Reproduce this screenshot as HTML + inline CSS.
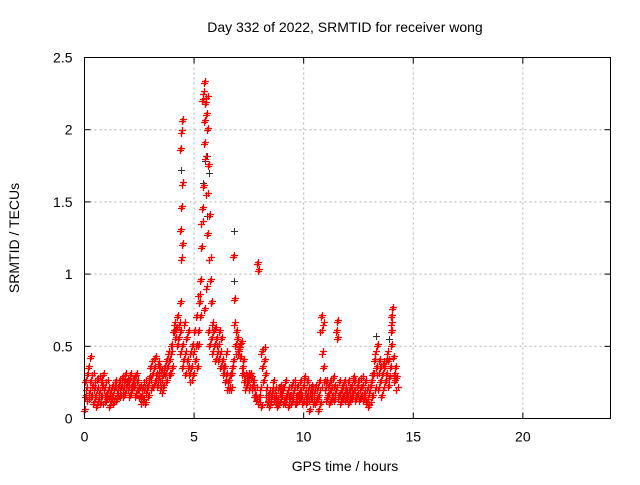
<!DOCTYPE html>
<html><head><meta charset="utf-8"><style>
body{margin:0;background:#fff;}
svg text{font-family:"Liberation Sans",sans-serif;font-size:14px;fill:#000;}
</style></head><body>
<svg id="chart" width="640" height="480" xmlns="http://www.w3.org/2000/svg">
<rect width="640" height="480" fill="#fff"/>
<g id="grid"></g><g id="ticks"></g><g id="black"></g><g id="red"></g>
<rect x="84.5" y="57.5" width="526" height="361" fill="none" stroke="#000"/>
<text x="345" y="32" text-anchor="middle">Day 332 of 2022, SRMTID for receiver wong</text>
<text x="345" y="471" text-anchor="middle">GPS time / hours</text>
<text x="0" y="0" text-anchor="middle" transform="translate(19,238) rotate(-90)">SRMTID / TECUs</text>
</svg>
<script>
const xTicks=[0,5,10,15,20];
const yTicks=[0,0.5,1,1.5,2,2.5];
const yTickLabels=["0","0.5","1","1.5","2","2.5"];
const redTimes=[0.0,0.1,0.2,0.3,0.4,0.5,0.6,0.7,0.8,0.9,1.0,1.1,1.2,1.3,1.4,1.5,1.6,1.7,1.8,1.9,2.0,2.1,2.2,2.3,2.4,2.5,2.6,2.7,2.8,2.9,3.0,3.1,3.2,3.3,3.4,3.5,3.6,3.7,3.8,3.9,4.0,4.1,4.2,4.3,4.4,4.5,4.6,4.7,4.8,4.9,5.0,5.1,5.2,5.3,5.4,5.5,5.6,5.7,5.8,5.9,6.0,6.1,6.2,6.3,6.4,6.5,6.6,6.7,6.8,6.9,7.0,7.1,7.2,7.3,7.4,7.5,7.6,7.7,7.8,7.9,8.0,8.1,8.2,8.3,8.4,8.5,8.6,8.7,8.8,8.9,9.0,9.1,9.2,9.3,9.4,9.5,9.6,9.7,9.8,9.9,10.0,10.1,10.2,10.3,10.4,10.5,10.6,10.7,10.8,10.9,11.0,11.1,11.2,11.3,11.4,11.5,11.6,11.7,11.8,11.9,12.0,12.1,12.2,12.3,12.4,12.5,12.6,12.7,12.8,12.9,13.0,13.1,13.2,13.3,13.4,13.5,13.6,13.7,13.8,13.9,14.0,14.1,14.2];
const redValues=[[.05,.15,.25],[.2,.3,.12],[.35,.18,.25],[.42,.15,.22],[.3,.1,.2],[.15,.25,.08],[.2,.12,.28],[.18,.1,.25],[.15,.22,.3],[.1,.2,.15],[.12,.25,.18],[.2,.08,.14],[.18,.12,.22],[.15,.1,.2],[.2,.25,.12],[.18,.14,.22],[.25,.15,.2],[.22,.28,.15],[.2,.25,.3],[.18,.22,.26],[.25,.2,.15],[.3,.22,.18],[.2,.25,.28],[.22,.15,.3],[.18,.25,.2],[.2,.14,.22],[.15,.1,.2],[.12,.2,.25],[.1,.18,.22],[.2,.15,.28],[.25,.35,.2],[.3,.4,.22],[.35,.25,.42],[.3,.22,.38],[.28,.35,.2],[.25,.32,.18],[.22,.3,.35],[.3,.4,.25],[.35,.45,.3],[.4,.3,.5],[.45,.35,.6],[.6,.65,.55],[.62,.5,.7],[.55,.65,.45],[.8,1.1,1.2,1.3,1.46,1.62,1.86,1.98,2.06,.6],[.5,.4,.65,.35],[.45,.3,.55],[.4,.6,.35],[.3,.45,.25],[.35,.5,.3],[.45,.6,.4],[.5,.7,.35],[.6,.85,.8,.5],[.95,1.18,1.35,.7],[1.45,1.6,2.05,2.2,2.25,.75],[2.32,2.18,2.1,1.9,1.8,.9],[2.22,2.0,1.75,1.55,1.27,.6],[1.4,1.1,.95,.5],[.8,.65,.45,.55],[.6,.5,.4],[.62,.55,.45],[.5,.4,.6],[.45,.35,.55],[.4,.3,.35],[.35,.25,.45],[.3,.2,.25],[.25,.2,.3],[.2,.3,.35],[1.12,.82,.65,.4],[.5,.6,.45],[.55,.45,.5],[.48,.42,.52],[.35,.3,.4],[.25,.3,.2],[.22,.28,.3],[.25,.2,.3],[.3,.28,.22],[.2,.25,.15],[.15,.2,.12],[1.07,1.02,.1],[.15,.2,.08],[.45,.35,.25],[.48,.4,.3],[.2,.15,.1],[.12,.18,.08],[.1,.15,.2],[.18,.25,.12],[.15,.2,.1],[.12,.08,.2],[.1,.18,.22],[.15,.2,.1],[.2,.12,.25],[.1,.15,.18],[.08,.2,.15],[.15,.22,.1],[.12,.18,.25],[.2,.1,.15],[.1,.22,.16],[.18,.12,.25],[.15,.2,.1],[.22,.28,.12],[.18,.1,.25],[.15,.2,.05],[.12,.18,.22],[.2,.15,.1],[.18,.1,.22],[.12,.2,.05],[.15,.25,.1],[.6,.7,.45,.2],[.65,.35,.25],[.2,.12,.25],[.15,.22,.1],[.18,.25,.12],[.2,.15,.28],[.22,.12,.18],[.6,.67,.55,.2],[.15,.25,.1],[.18,.12,.22],[.2,.15,.25],[.12,.2,.18],[.15,.25,.1],[.2,.12,.18],[.22,.15,.28],[.18,.25,.12],[.2,.15,.22],[.25,.18,.12],[.2,.15,.28],[.22,.12,.18],[.15,.25,.1],[.12,.2,.08],[.18,.1,.22],[.25,.15,.3],[.3,.4,.2],[.45,.35,.5],[.3,.2,.4],[.25,.35,.15],[.3,.2,.38],[.35,.25,.4],[.3,.45,.22],[.4,.28,.35],[.6,.7,.76,.65,.5],[.42,.3,.25],[.35,.28,.2]];
const blackTimes=[0,4.4,5.4,5.5,5.6,5.7,5.6,6.8,6.8,13.3,13.9];
const blackValues=[.25,1.72,1.63,1.78,1.82,1.7,1.4,1.3,.95,.57,.55];

const L=84.5,R=610.5,T=57.5,B=418.5;
const xs=t=>L+(t/24)*(R-L);
const ys=v=>B-(v/2.5)*(B-T);
const NS="http://www.w3.org/2000/svg";
function mk(tag,parent,attrs){const e=document.createElementNS(NS,tag);for(const k in attrs)e.setAttribute(k,attrs[k]);parent.appendChild(e);return e;}
const grid=document.getElementById('grid'),ticks=document.getElementById('ticks');
xTicks.forEach(t=>{
  const x=xs(t);
  if(t>0){const g=mk('line',grid,{x1:x,x2:x,y1:T,y2:B,stroke:'#b0b0b0','stroke-dasharray':'2,3'});
  
  }
  mk('line',ticks,{x1:x,x2:x,y1:B,y2:B-6,stroke:'#000'});
  mk('line',ticks,{x1:x,x2:x,y1:T,y2:T+6,stroke:'#000'});
  const tx=mk('text',ticks,{x:x,y:B+23,'text-anchor':'middle'});tx.textContent=t;
  
  
});
yTicks.forEach((v,i)=>{
  const y=ys(v);
  if(v>0&&v<2.5){const g=mk('line',grid,{x1:L,x2:R,y1:y,y2:y,stroke:'#b0b0b0','stroke-dasharray':'2,3'});
  
  }
  mk('line',ticks,{x1:L,x2:L+6,y1:y,y2:y,stroke:'#000'});
  mk('line',ticks,{x1:R,x2:R-6,y1:y,y2:y,stroke:'#000'});
  const tx=mk('text',ticks,{x:L-12,y:y+5,'text-anchor':'end'});tx.textContent=yTickLabels[i];
  
  
});
function plus(parent,t,v,color,w){
  const x=Math.round(xs(t))+0.5,y=Math.round(ys(v))+0.5;
  return mk('path',parent,{d:`M${x-3.5} ${y}H${x+3.5}M${x} ${y-3.5}V${y+3.5}`,stroke:color,'stroke-width':w,fill:'none'});
}
const blackG=document.getElementById('black');
blackTimes.forEach((t,i)=>{const p=plus(blackG,t,blackValues[i],'#333',1);
  
  });
const redG=document.getElementById('red');
const jitter=[-0.035,0,0.035];
redTimes.forEach((t,i)=>{redValues[i].forEach((v,j)=>{
  [0,0.05].forEach(off=>{
    const p=plus(redG,t+jitter[j%3]+off,v+(off?0.015:0),'#ff0000',1.3);
    
    
  });
});});
</script>
</body></html>
